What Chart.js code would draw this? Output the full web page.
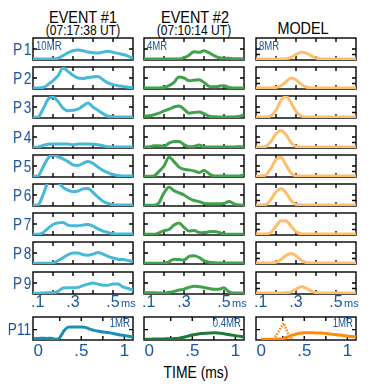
<!DOCTYPE html>
<html lang="en">
<head>
<meta charset="UTF-8">
<title>Emission profiles</title>
<script src="https://cdn.jsdelivr.net/npm/chart.js"></script>
<style>
  body { margin: 0; width: 376px; height: 384px; background: #fff; position: relative; overflow: hidden;
         font-family: "Liberation Sans", Arial, sans-serif; }
  canvas { position: absolute; }
  .txt { position: absolute; white-space: nowrap; line-height: 1; }
  .pl { letter-spacing: 2px; }
</style>
</head>
<body>
<script>
// time grid (ms) for rows P1..P9
const tGrid = [0.1, 0.125, 0.15, 0.175, 0.2, 0.225, 0.25, 0.275, 0.3, 0.325, 0.35, 0.375, 0.4,
               0.425, 0.45, 0.475, 0.5, 0.525, 0.55, 0.575, 0.6];
const rowNames = ['P1', 'P2', 'P3', 'P4', 'P5', 'P6', 'P7', 'P8', 'P9'];

// EVENT #1, normalised to panel full scale
const event1 = [
  [.05,.05,.05,.05,.05,.08,.2,.33,.42,.45,.42,.36,.33,.32,.36,.40,.35,.30,.25,.18,.07],
  [.05,.05,.07,.2,.38,.6,.95,.8,.62,.5,.48,.52,.55,.57,.42,.28,.2,.15,.12,.08,.06],
  [.03,.04,.4,.85,.95,.75,.45,.33,.35,.4,.55,.68,.5,.35,.2,.08,.05,.04,.04,.04,.04],
  [.03,.04,.12,.17,.18,.18,.18,.18,.15,.18,.18,.18,.17,.15,.1,.06,.05,.05,.05,.05,.05],
  [.03,.05,.45,.85,1.0,.92,.82,.7,.55,.52,.62,.7,.62,.45,.3,.2,.1,.07,.05,.04,.04],
  [.03,.05,.5,1.1,1.3,1.1,.85,.72,.65,.68,.78,.8,.62,.4,.22,.12,.06,.04,.04,.04,.04],
  [.03,.03,.1,.3,.48,.55,.57,.45,.42,.42,.45,.48,.4,.28,.18,.12,.06,.04,.04,.04,.04],
  [.03,.03,.03,.03,.05,.15,.28,.42,.5,.5,.42,.4,.45,.52,.45,.35,.27,.22,.2,.16,.1],
  [.03,.03,.05,.06,.05,.12,.27,.28,.28,.3,.38,.45,.5,.45,.4,.4,.45,.45,.32,.25,.18]
];

// EVENT #2
const event2 = [
  [.05,.05,.05,.05,.05,.05,.05,.05,.1,.22,.38,.35,.42,.33,.2,.1,.08,.08,.06,.06,.05],
  [.05,.05,.05,.05,.07,.15,.3,.55,.5,.38,.4,.42,.3,.12,.1,.13,.15,.07,.05,.05,.05],
  [.08,.1,.15,.22,.32,.4,.5,.55,.4,.22,.25,.27,.2,.08,.06,.05,.05,.05,.05,.07,.15],
  [.04,.05,.1,.1,.08,.22,.3,.3,.15,.06,.07,.14,.06,.05,.05,.05,.05,.05,.05,.06,.05],
  [.03,.03,.05,.25,.5,.9,.7,.45,.35,.32,.28,.2,.3,.15,.05,.05,.05,.05,.05,.05,.1],
  [.03,.03,.03,.15,.6,.85,.7,.6,.5,.35,.25,.2,.12,.1,.1,.1,.12,.2,.1,.05,.05],
  [.03,.03,.03,.1,.2,.25,.45,.55,.35,.18,.2,.12,.1,.15,.16,.12,.04,.03,.03,.03,.03],
  [.03,.03,.03,.03,.04,.1,.22,.2,.18,.35,.38,.3,.15,.08,.06,.05,.05,.05,.05,.05,.05],
  [.06,.06,.06,.05,.03,.08,.12,.18,.22,.3,.35,.33,.3,.25,.22,.22,.28,.1,.05,.05,.04]
];

// MODEL
const model = [
  [.05,.05,.05,.05,.05,.05,.06,.12,.25,.35,.32,.2,.09,.05,.05,.05,.05,.05,.05,.05,.05],
  [.05,.05,.05,.05,.07,.15,.33,.5,.42,.22,.09,.05,.05,.05,.05,.05,.05,.05,.05,.05,.05],
  [.05,.05,.05,.1,.35,.8,.98,.7,.3,.1,.05,.05,.05,.05,.05,.05,.05,.05,.05,.05,.05],
  [.05,.05,.08,.3,.65,.8,.6,.25,.07,.05,.05,.05,.05,.05,.05,.05,.05,.05,.05,.05,.05],
  [.05,.05,.1,.4,.8,.9,.55,.18,.05,.05,.05,.05,.05,.05,.05,.05,.05,.05,.05,.05,.05],
  [.05,.05,.07,.3,.65,.8,.6,.25,.07,.05,.05,.05,.05,.05,.05,.05,.05,.05,.05,.05,.05],
  [.05,.05,.05,.12,.4,.65,.65,.4,.15,.06,.05,.05,.05,.05,.05,.05,.05,.05,.05,.05,.05],
  [.05,.05,.05,.05,.08,.2,.38,.48,.38,.18,.07,.05,.05,.05,.05,.05,.05,.05,.05,.05,.05],
  [.05,.05,.05,.05,.05,.05,.06,.1,.22,.33,.27,.14,.06,.05,.05,.05,.05,.05,.05,.05,.05]
];

// P11 row (longer time base)
const p11Time = [-0.05, 0, .05, .1, .15, .2, .25, .3, .35, .4, .45, .5, .55, .6, .65, .7, .75, .8,
                 .85, .9, .95, 1, 1.05, 1.1];
const p11Event1 = [.07,.07,.08,.07,.08,.03,.1,.4,.56,.57,.57,.57,.55,.47,.42,.38,.35,.33,.3,.26,.22,.2,.16,.14];
const p11Event2 = [.03,.03,.04,.04,.04,.05,.05,.06,.08,.12,.17,.22,.25,.28,.29,.3,.31,.3,.28,.25,.22,.19,.16,.14];
const p11Model  = [null,.03,.03,.03,.03,.04,.06,.12,.2,.25,.29,.31,.31,.31,.3,.3,.28,.26,.24,.22,.2,.17,.15,.13];
const p11FastTime = [0.14, 0.2, 0.26, 0.31, 0.36];
const p11Fast     = [0.02, 0.35, 0.74, 0.3, 0.03];

const topTickValues = [0.1, 0.3, 0.5];
const topTickLabels = ['.1', '.3', '.5'];
const p11TickValues = [0, 0.5, 1];
const p11TickLabels = ['0', '.5', '1'];
const scaleNotes = ['10MR', '4MR', '8MR'];
const p11Notes = ['1MR', '0.4MR', '1MR'];

const BLUE = '#1b55a3';
const colColors = ['#47b9d8', '#40a24c', '#ffbe6c'];
const p11Colors = ['#1a8fb2', '#1f7a37', '#ff8a0a'];

const colLeft = [33, 144, 256];
const panelW = 100;
const rowTop = [38, 67, 96, 126, 155, 184, 213, 242, 272];
const panelH = 22;
const p11Top = 317, p11H = 23;

function pts(xs, ys) {
  return xs.map((x, i) => ({ x: x, y: ys[i] }));
}

// frame, inward ticks and optional tick labels under the panel
function framePlugin(xt, yt, tickText) {
  return {
    id: 'frame',
    beforeDatasetsDraw(chart) {
      const { ctx, chartArea: a, scales: { x, y } } = chart;
      ctx.save();
      ctx.strokeStyle = '#000';
      ctx.lineWidth = 1.4;
      ctx.strokeRect(a.left, a.top, a.right - a.left, a.bottom - a.top);
      ctx.beginPath();
      xt.forEach(v => {
        const px = x.getPixelForValue(v);
        ctx.moveTo(px, a.top); ctx.lineTo(px, a.top + 4);
        ctx.moveTo(px, a.bottom); ctx.lineTo(px, a.bottom - 4);
      });
      yt.forEach(v => {
        const py = y.getPixelForValue(v);
        ctx.moveTo(a.left, py); ctx.lineTo(a.left + 4, py);
        ctx.moveTo(a.right, py); ctx.lineTo(a.right - 4, py);
      });
      ctx.stroke();
      ctx.restore();
    },
    afterDraw(chart) {
      if (!tickText) return;
      const { ctx, chartArea: a, scales: { x } } = chart;
      ctx.save();
      ctx.fillStyle = BLUE;
      ctx.textBaseline = 'middle';
      ctx.textAlign = 'center';
      ctx.font = tickText.font;
      tickText.values.forEach((v, i) => {
        const w = ctx.measureText(tickText.labels[i]).width;
        const px = Math.max(x.getPixelForValue(v), a.left + w / 2 - 2);
        ctx.fillText(tickText.labels[i], px, a.bottom + tickText.dy);
      });
      if (tickText.unit) {
        ctx.font = '11px "Liberation Sans", Arial, sans-serif';
        ctx.textAlign = 'left';
        ctx.fillText(tickText.unit, x.getPixelForValue(tickText.unitAt) + 8, a.bottom + tickText.dy + 1);
      }
      ctx.restore();
    }
  };
}

function makePanel(left, top, w, h, datasets, xr, xt, yt, tickText) {
  const pad = 4, extra = tickText ? 24 : 0;
  const cv = document.createElement('canvas');
  cv.width = w + 2 * pad;
  cv.height = h + 2 * pad + extra;
  cv.style.left = (left - pad) + 'px';
  cv.style.top = (top - pad) + 'px';
  document.body.appendChild(cv);
  new Chart(cv, {
    type: 'line',
    data: { datasets: datasets },
    options: {
      responsive: false,
      animation: false,
      devicePixelRatio: 1,
      layout: { padding: { left: pad, right: pad, top: pad, bottom: pad + extra } },
      plugins: { legend: { display: false }, tooltip: { enabled: false } },
      elements: { point: { radius: 0 }, line: { borderWidth: 3, cubicInterpolationMode: 'monotone' } },
      scales: {
        x: { type: 'linear', display: false, min: xr[0], max: xr[1] },
        y: { display: false, min: 0, max: 1 }
      }
    },
    plugins: [framePlugin(xt, yt, tickText)]
  });
}

function addText(txt, x, y, size, color, align, sx, cls) {
  const d = document.createElement('div');
  d.className = 'txt' + (cls ? ' ' + cls : '');
  d.textContent = txt;
  d.style.fontSize = size + 'px';
  d.style.color = color;
  d.style.left = x + 'px';
  d.style.top = y + 'px';
  const tx = align === 'center' ? '-50%' : (align === 'right' ? '-100%' : '0');
  const origin = align === 'center' ? 'center' : (align === 'right' ? 'right' : 'left');
  d.style.transformOrigin = origin + ' center';
  d.style.transform = 'translate(' + tx + ',-50%) scaleX(' + sx + ')';
  document.body.appendChild(d);
}

// headers
addText('EVENT #1', 83, 18, 16, '#000', 'center', 0.9);
addText('(07:17:38 UT)', 83, 30, 14, '#000', 'center', 0.86);
addText('EVENT #2', 195, 18, 16, '#000', 'center', 0.9);
addText('(07:10:14 UT)', 194, 30, 14, '#000', 'center', 0.86);
addText('MODEL', 303, 29, 16, '#000', 'center', 0.9);
addText('TIME (ms)', 196, 373, 16, '#000', 'center', 0.87);

const columns = [event1, event2, model];
const tickFontTop = '16px "Liberation Sans", Arial, sans-serif';
const tickFontP11 = '17px "Liberation Sans", Arial, sans-serif';

rowNames.forEach((name, r) => {
  addText(name, 33, rowTop[r] + panelH / 2 + 1, 16, BLUE, 'right', 0.85, 'pl');
  columns.forEach((col, c) => {
    const ds = [{ data: pts(tGrid, col[r]), borderColor: colColors[c] }];
    const yt = c === 2 ? [0.25, 0.5] : [0.5];
    const tt = r === rowNames.length - 1
      ? { values: topTickValues, labels: topTickLabels, font: tickFontTop, dy: 9, unit: 'ms', unitAt: 0.5 }
      : null;
    makePanel(colLeft[c], rowTop[r], panelW, panelH, ds, [0.1, 0.6], [0.2, 0.3, 0.4, 0.5], yt, tt);
  });
});

// full-scale notes
scaleNotes.forEach((s, c) => addText(s, colLeft[c] + 3, rowTop[0] + 8, 12, BLUE, 'left', 0.8));

// P11 row
addText('P11', 31, p11Top + p11H / 2 + 1, 16, BLUE, 'right', 0.85);
const p11Sets = [
  [{ data: pts(p11Time, p11Event1), borderColor: p11Colors[0] }],
  [{ data: pts(p11Time, p11Event2), borderColor: p11Colors[1] }],
  [{ data: pts(p11Time, p11Model), borderColor: p11Colors[2] },
   { data: pts(p11FastTime, p11Fast), borderColor: p11Colors[2], borderWidth: 2.5, borderDash: [1.5, 1.5],
     cubicInterpolationMode: 'default', tension: 0 }]
];
p11Sets.forEach((ds, c) => {
  makePanel(colLeft[c], p11Top, panelW, p11H, ds, [-0.06, 1.1], [0.25, 0.5, 0.75, 1], [0.45],
    { values: p11TickValues, labels: p11TickLabels, font: tickFontP11, dy: 11 });
  addText(p11Notes[c], colLeft[c] + panelW - 3, p11Top + 6, 12, BLUE, 'right', 0.8);
});
</script>
</body>
</html>
